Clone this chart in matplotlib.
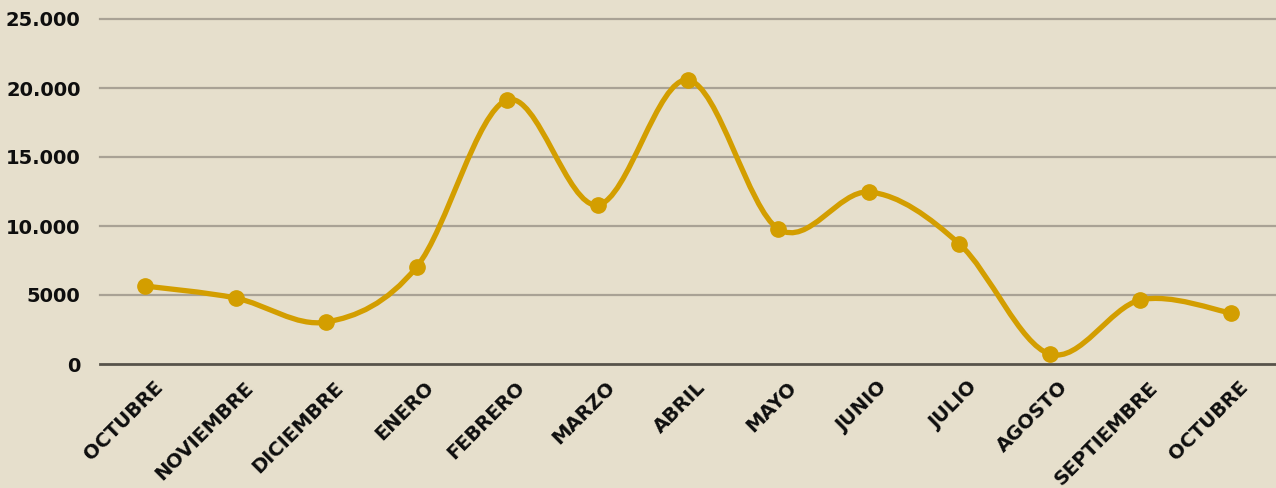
import numpy as np
import matplotlib
matplotlib.use("Agg")
import matplotlib.pyplot as plt
import matplotlib.transforms as mtransforms
from matplotlib.path import Path
from matplotlib.patches import PathPatch

meses = ["OCTUBRE", "NOVIEMBRE", "DICIEMBRE", "ENERO", "FEBRERO", "MARZO", "ABRIL",
         "MAYO", "JUNIO", "JULIO", "AGOSTO", "SEPTIEMBRE", "OCTUBRE"]
valores = [5650, 4780, 3040, 7030, 19130, 11520, 20580, 9780, 12460, 8700, 720, 4640, 3700]
yticks = [0, 5000, 10000, 15000, 20000, 25000]
ylabels = ["0", "5000", "10.000", "15.000", "20.000", "25.000"]

bg = "#E6DFCC"
gold = "#D39E00"

fig = plt.figure(figsize=(12.76, 4.88), dpi=100, facecolor=bg)
ax = fig.add_axes([100 / 1276, 1 - 364 / 488, 1 - 100 / 1276, 345 / 488])
ax.set_facecolor(bg)

x = np.arange(len(valores), dtype=float)
y = np.array(valores, dtype=float)

# smooth line (catmull-rom as cubic beziers)
verts = [(x[0], y[0])]
codes = [Path.MOVETO]
n = len(x)
for i in range(n - 1):
    p0 = np.array([x[max(i - 1, 0)], y[max(i - 1, 0)]])
    p1 = np.array([x[i], y[i]])
    p2 = np.array([x[i + 1], y[i + 1]])
    p3 = np.array([x[min(i + 2, n - 1)], y[min(i + 2, n - 1)]])
    c1 = p1 + (p2 - p0) / 6
    c2 = p2 - (p3 - p1) / 6
    verts += [tuple(c1), tuple(c2), tuple(p2)]
    codes += [Path.CURVE4] * 3
ax.add_patch(PathPatch(Path(verts, codes), fill=False, edgecolor=gold, lw=3.8,
                       capstyle="round", joinstyle="round", zorder=3))
ax.plot(x, y, "o", color=gold, markersize=11, zorder=4)

ax.set_xlim(-0.5, n - 0.5)
ax.set_ylim(0, 25000)
ax.set_yticks(yticks)
ax.set_yticklabels(ylabels)
ax.set_xticks(x)
ax.set_xticklabels(meses, rotation=45, ha="right", rotation_mode="anchor")

for t in yticks[1:]:
    ax.axhline(t, color="#A9A295", lw=1.6, zorder=1, clip_on=False)
ax.axhline(0, color="#57534A", lw=2.0, zorder=2, clip_on=False)

for s in ax.spines.values():
    s.set_visible(False)
ax.tick_params(length=0)
ax.tick_params(axis="y", pad=14)
ax.tick_params(axis="x", pad=10)
offset = mtransforms.ScaledTranslation(8 / 100, 0, fig.dpi_scale_trans)
for lab in ax.get_xticklabels():
    lab.set_transform(lab.get_transform() + offset)
for lab in ax.get_yticklabels() + ax.get_xticklabels():
    lab.set_fontweight("heavy")
    lab.set_fontsize(14)
    lab.set_color("#0E0E0E")

fig.savefig("out.png", dpi=100, facecolor=bg)
